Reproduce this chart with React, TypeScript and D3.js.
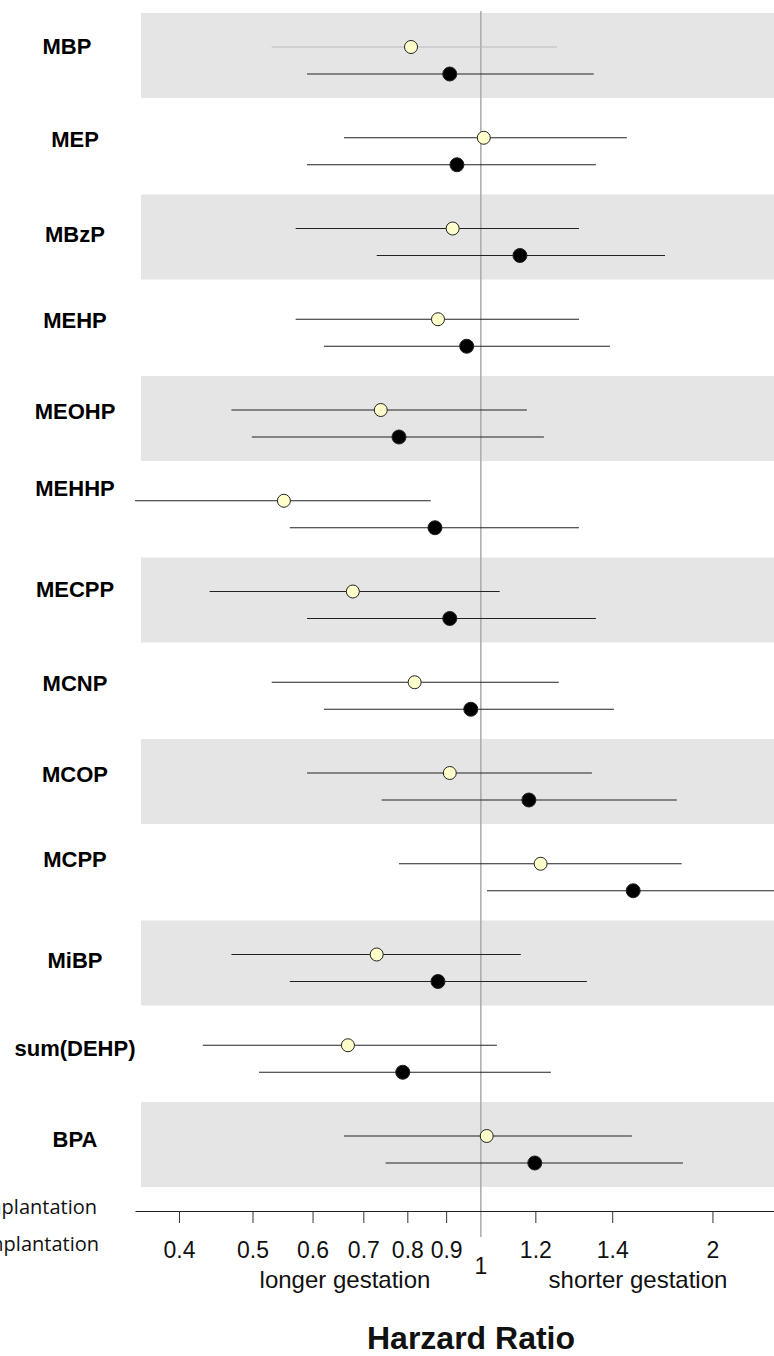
import React, { useEffect, useRef } from 'react';
import * as d3 from 'd3';

// compounds, top to bottom
const categories = [
  'MBP', 'MEP', 'MBzP', 'MEHP', 'MEOHP', 'MEHHP', 'MECPP',
  'MCNP', 'MCOP', 'MCPP', 'MiBP', 'sum(DEHP)', 'BPA'
];

// pre-implantation (open, light yellow markers)
const preHR = [0.809, 1.009, 0.918, 0.878, 0.738, 0.550, 0.678, 0.818, 0.910, 1.199, 0.729, 0.668, 1.018];
const preLo = [0.530, 0.660, 0.570, 0.570, 0.469, 0.350, 0.439, 0.530, 0.590, 0.780, 0.469, 0.430, 0.660];
const preHi = [1.260, 1.558, 1.347, 1.347, 1.150, 0.859, 1.059, 1.267, 1.401, 1.840, 1.129, 1.050, 1.582];

// post-implantation (filled black markers)
const postHR = [0.910, 0.930, 1.126, 0.958, 0.780, 0.870, 0.910, 0.970, 1.157, 1.588, 0.878, 0.789, 1.178];
const postLo = [0.590, 0.590, 0.729, 0.621, 0.499, 0.560, 0.590, 0.621, 0.740, 1.019, 0.560, 0.510, 0.749];
const postHi = [1.409, 1.418, 1.749, 1.480, 1.211, 1.347, 1.418, 1.498, 1.813, 2.480, 1.380, 1.237, 1.847];

// x axis ticks (the right-hand ticks sit a bit off their nominal values in the original)
const tickValues = [0.4, 0.5, 0.6, 0.7, 0.8, 0.9, 1.18, 1.49, 2.02];
const tickLabels = ['0.4', '0.5', '0.6', '0.7', '0.8', '0.9', '1.2', '1.4', '2'];

const legendLabels = ['Pre-implantation', 'Post-implantation'];

// small hand nudges for the row labels [dx, dy]
const labelNudge = {
  MBP: [-8, -2], MBzP: [0, 4], MEHHP: [0, -14], MECPP: [0, -4],
  MCPP: [0, -6], MiBP: [0, 4], 'sum(DEHP)': [0, 2], BPA: [0, 2]
};

const W = 774;
const H = 1356;

const App = () => {
  const svgRef = useRef(null);

  useEffect(() => {
    const svg = d3.select(svgRef.current);
    svg.selectAll('*').remove();

    const left = 135;
    const axisY = 1211;

    const x = d3.scaleLog().domain([0.35, 2.435]).range([left, W]);
    const y = d3.scaleBand().domain(categories).range([13, 13 + categories.length * 90.75]);
    const bandH = 85;

    // alternating grey bands
    svg.append('g')
      .selectAll('rect')
      .data(categories.filter((d, i) => i % 2 === 0))
      .enter().append('rect')
      .attr('x', 141)
      .attr('y', d => y(d))
      .attr('width', W - 141)
      .attr('height', bandH)
      .attr('fill', '#e5e5e5');

    // reference line at HR = 1
    svg.append('line')
      .attr('x1', x(1)).attr('x2', x(1))
      .attr('y1', 11).attr('y2', 1237)
      .attr('stroke', '#aaa')
      .attr('stroke-width', 1.5);

    // row labels
    svg.append('g')
      .selectAll('text')
      .data(categories)
      .enter().append('text')
      .attr('x', d => 75 + (labelNudge[d] ? labelNudge[d][0] : 0))
      .attr('y', d => y(d) + 35 + 8 + (labelNudge[d] ? labelNudge[d][1] : 0))
      .attr('text-anchor', 'middle')
      .style('font-family', '"Liberation Sans", Arial, sans-serif')
      .style('font-weight', 'bold')
      .style('font-size', '22px')
      .text(d => d);

    const series = [
      { hr: preHR, lo: preLo, hi: preHi, off: 34, fill: '#ffffcc' },
      { hr: postHR, lo: postLo, hi: postHi, off: 61, fill: '#000' }
    ];

    series.forEach((s, si) => {
      const g = svg.append('g');
      g.selectAll('line')
        .data(categories)
        .enter().append('line')
        .attr('x1', (d, i) => x(s.lo[i]))
        .attr('x2', (d, i) => x(s.hi[i]))
        .attr('y1', d => y(d) + s.off)
        .attr('y2', d => y(d) + s.off)
        .attr('stroke', (d) => (si === 0 && d === 'MBP' ? '#bbb' : '#222'))
        .attr('stroke-width', 1.2);

      g.selectAll('circle')
        .data(categories)
        .enter().append('circle')
        .attr('cx', (d, i) => x(s.hr[i]))
        .attr('cy', d => y(d) + s.off)
        .attr('r', si === 0 ? 6.5 : 7)
        .attr('fill', s.fill)
        .attr('stroke', '#222')
        .attr('stroke-width', 1);
    });

    // x axis
    const axis = svg.append('g')
      .attr('transform', `translate(0,${axisY})`)
      .call(d3.axisBottom(x)
        .tickValues(tickValues)
        .tickFormat((d, i) => tickLabels[i])
        .tickSize(12)
        .tickSizeOuter(0)
        .tickPadding(19));
    axis.select('.domain').attr('stroke', '#222').attr('stroke-width', 1.2);
    axis.selectAll('.tick line').attr('stroke', '#333');
    axis.selectAll('.tick text')
      .style('font-family', '"Liberation Sans", Arial, sans-serif')
      .style('font-size', '23px')
      .attr('fill', '#111');

    // "1" label sits lower, under the reference line
    svg.append('text')
      .attr('x', x(1))
      .attr('y', 1274)
      .attr('text-anchor', 'middle')
      .style('font-family', '"Liberation Sans", Arial, sans-serif')
      .style('font-size', '23px')
      .attr('fill', '#111')
      .text('1');

    svg.append('text')
      .attr('x', 345)
      .attr('y', 1288)
      .attr('text-anchor', 'middle')
      .style('font-family', '"Liberation Sans", Arial, sans-serif')
      .style('font-size', '24px')
      .attr('fill', '#111')
      .text('longer gestation');

    svg.append('text')
      .attr('x', 638)
      .attr('y', 1288)
      .attr('text-anchor', 'middle')
      .style('font-family', '"Liberation Sans", Arial, sans-serif')
      .style('font-size', '24px')
      .attr('fill', '#111')
      .text('shorter gestation');

    svg.append('text')
      .attr('x', 471)
      .attr('y', 1349)
      .attr('text-anchor', 'middle')
      .style('font-family', '"Liberation Sans", Arial, sans-serif')
      .style('font-weight', 'bold')
      .style('font-size', '32px')
      .attr('fill', '#111')
      .text('Harzard Ratio');

    // legend text, cut off at the left edge like the original
    svg.append('g')
      .selectAll('text')
      .data(legendLabels)
      .enter().append('text')
      .attr('x', (d, i) => (i === 0 ? 97 : 99))
      .attr('y', (d, i) => (i === 0 ? 1214 : 1251))
      .attr('text-anchor', 'end')
      .style('font-family', '"Open Sans", "Noto Sans", sans-serif')
      .style('font-size', '20px')
      .attr('fill', '#111')
      .text(d => d);
  }, []);

  return (
    <svg
      ref={svgRef}
      width={W}
      height={H}
      style={{ position: 'absolute', left: 0, top: 0, background: '#fff' }}
    ></svg>
  );
};

export default App;
